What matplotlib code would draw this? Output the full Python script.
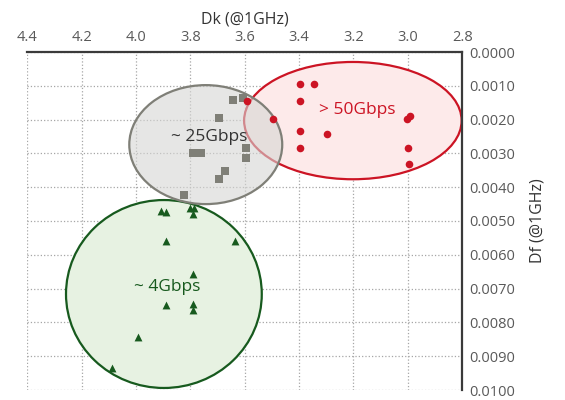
import matplotlib.pyplot as plt
from matplotlib.patches import Ellipse
from matplotlib.ticker import FormatStrFormatter

plt.rcParams['font.family'] = ['Open Sans', 'DejaVu Sans']

# ~25Gbps materials (Dk, Df)
dk_25 = [3.644, 3.606, 3.693, 3.789, 3.759, 3.594, 3.594, 3.671, 3.693, 3.822]
df_25 = [0.00143, 0.00136, 0.00196, 0.00300, 0.00300, 0.00285, 0.00315, 0.00353, 0.00377, 0.00424]

# >50Gbps materials
dk_50 = [3.59, 3.496, 3.395, 3.346, 3.395, 3.395, 3.296, 3.395, 3.004, 2.993, 3.0, 2.994]
df_50 = [0.00146, 0.00199, 0.00096, 0.00096, 0.00146, 0.00235, 0.00242, 0.00285, 0.00199, 0.00190, 0.00285, 0.00332]

# ~4Gbps materials
dk_4 = [3.906, 3.889, 3.80, 3.785, 3.79, 3.89, 3.635, 3.79, 3.889, 3.79, 3.79, 3.993, 4.089]
df_4 = [0.00470, 0.00474, 0.00462, 0.00462, 0.00480, 0.00560, 0.00560, 0.00658, 0.00748, 0.00745, 0.00764, 0.00844, 0.00934]

# group ellipses: (center Dk, center Df, width, height)
ell_50 = (3.202, 0.00203, 0.80, 0.00347)
ell_25 = (3.743, 0.00274, 0.5625, 0.00352)
ell_4 = (3.897, 0.00716, 0.72, 0.00556)

red = '#CC1424'
grey = '#7F7F77'
green = '#175A1E'

fig = plt.figure(figsize=(5.65, 4.0), dpi=100)
ax = fig.add_axes([0.048, 0.025, 0.77, 0.845])

ax.add_patch(Ellipse(ell_50[:2], ell_50[2], ell_50[3], facecolor='#FDEAEA',
                     edgecolor=red, lw=1.6, zorder=2))
ax.add_patch(Ellipse(ell_25[:2], ell_25[2], ell_25[3], facecolor=(0.84, 0.84, 0.83, 0.6),
                     edgecolor=grey, lw=1.6, zorder=3))
ax.add_patch(Ellipse(ell_4[:2], ell_4[2], ell_4[3], facecolor='#E7F2E2',
                     edgecolor=green, lw=1.6, zorder=2))

ax.scatter(dk_25, df_25, marker='s', s=32, color=grey, zorder=5, linewidths=0)
ax.scatter(dk_50, df_50, marker='o', s=30, color=red, zorder=5, linewidths=0)
ax.scatter(dk_4, df_4, marker='^', s=32, color=green, zorder=5, linewidths=0)

ax.text(3.731, 0.00251, '~ 25Gbps', color='#333333', fontsize=12.5, ha='center', va='center', zorder=6)
ax.text(3.187, 0.00172, '> 50Gbps', color=red, fontsize=12.5, ha='center', va='center', zorder=6)
ax.text(3.885, 0.00696, '~ 4Gbps', color=green, fontsize=12.5, ha='center', va='center', zorder=6)

ax.set_xlim(4.4, 2.8)
ax.set_ylim(0.0100, 0.0)
ax.set_xticks([4.4, 4.2, 4.0, 3.8, 3.6, 3.4, 3.2, 3.0, 2.8])
ax.set_yticks([i * 0.001 for i in range(11)])
ax.xaxis.set_major_formatter(FormatStrFormatter('%.1f'))
ax.yaxis.set_major_formatter(FormatStrFormatter('%.4f'))
ax.xaxis.tick_top()
ax.yaxis.tick_right()
ax.xaxis.set_label_position('top')
ax.yaxis.set_label_position('right')
ax.tick_params(length=0, labelsize=10.5, colors='#595959', pad=5)
ax.set_xlabel('Dk (@1GHz)', fontsize=11.5, color='#333333', labelpad=5)
ax.set_ylabel('Df (@1GHz)', fontsize=11.5, color='#333333', labelpad=10)

ax.grid(True, linestyle=':', color='#A6A6A6', lw=0.9, zorder=0)
ax.set_axisbelow(True)
for side in ['left', 'bottom']:
    ax.spines[side].set_visible(False)
for side in ['top', 'right']:
    ax.spines[side].set_color('#3A3A3A')
    ax.spines[side].set_linewidth(1.6)

fig.savefig('out.png', dpi=100)
